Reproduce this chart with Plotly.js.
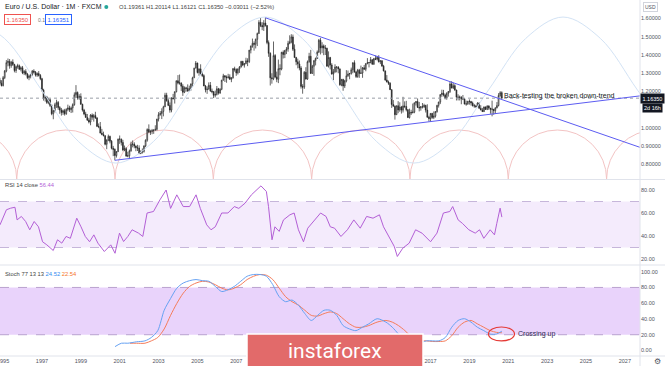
<!DOCTYPE html>
<html><head><meta charset="utf-8">
<script src="https://cdn.plot.ly/plotly-3.0.1.min.js"></script>
<style>html,body{margin:0;padding:0;background:#fff;}#chart{width:665px;height:366px;}</style>
</head><body><div id="chart"></div>
<script>
// EUR/USD monthly candles, Nov 1994 .. Sep 2020
const startYear = 1994, startMonth = 11;
const open = [
1.262,1.245,
1.232,1.276,1.312,1.358,1.365,1.342,1.361,1.348,1.315,1.336,1.341,1.322,
1.330,1.301,1.310,1.296,1.276,1.284,1.292,1.312,1.306,1.290,1.298,1.288,
1.270,1.208,1.162,1.170,1.140,1.155,1.124,1.078,1.095,1.128,1.140,1.112,
1.098,1.085,1.095,1.078,1.102,1.110,1.100,1.110,1.128,1.182,1.195,1.165,
1.172,1.130,1.098,1.077,1.058,1.043,1.033,1.071,1.059,1.068,1.055,1.009,
1.007,0.972,0.965,0.958,0.911,0.934,0.954,0.928,0.889,0.883,0.849,0.871,
0.939,0.939,0.921,0.880,0.887,0.846,0.848,0.875,0.911,0.912,0.901,0.892,
0.890,0.860,0.868,0.872,0.902,0.933,0.992,0.978,0.980,0.987,0.988,0.993,
1.049,1.073,1.079,1.091,1.116,1.180,1.150,1.124,1.098,1.165,1.160,1.199,
1.259,1.246,1.247,1.229,1.196,1.220,1.217,1.202,1.217,1.242,1.275,1.328,
1.356,1.304,1.324,1.296,1.287,1.230,1.210,1.213,1.234,1.203,1.199,1.179,
1.184,1.215,1.192,1.212,1.262,1.286,1.279,1.276,1.280,1.267,1.275,1.325,
1.320,1.302,1.324,1.335,1.365,1.345,1.353,1.368,1.364,1.427,1.449,1.464,
1.459,1.486,1.518,1.579,1.562,1.555,1.575,1.561,1.468,1.409,1.275,1.270,
1.397,1.280,1.267,1.325,1.323,1.415,1.403,1.425,1.433,1.464,1.472,1.499,
1.432,1.386,1.363,1.351,1.329,1.228,1.224,1.305,1.268,1.363,1.393,1.299,
1.338,1.369,1.381,1.416,1.481,1.439,1.450,1.439,1.437,1.339,1.386,1.345,
1.296,1.308,1.334,1.334,1.324,1.237,1.266,1.230,1.258,1.286,1.296,1.299,
1.319,1.358,1.307,1.282,1.317,1.299,1.301,1.330,1.322,1.352,1.358,1.359,
1.374,1.349,1.380,1.377,1.387,1.363,1.369,1.339,1.313,1.263,1.252,1.245,
1.210,1.129,1.119,1.073,1.122,1.099,1.115,1.098,1.121,1.118,1.100,1.057,
1.086,1.083,1.087,1.138,1.145,1.113,1.110,1.117,1.116,1.124,1.098,1.059,
1.052,1.080,1.058,1.065,1.090,1.124,1.142,1.183,1.191,1.181,1.164,1.190,
1.200,1.241,1.219,1.232,1.208,1.169,1.168,1.169,1.160,1.160,1.131,1.132,
1.147,1.145,1.137,1.122,1.121,1.117,1.137,1.108,1.099,1.090,1.115,1.102,
1.121,1.109,1.103,1.103,1.095,1.110,1.123,1.178,1.19361
];
const high = [
1.275,1.262,
1.285,1.318,1.372,1.381,1.378,1.368,1.376,1.352,1.342,1.352,1.348,1.338,
1.340,1.318,1.322,1.302,1.292,1.298,1.318,1.322,1.312,1.305,1.312,1.296,
1.275,1.215,1.180,1.176,1.165,1.162,1.130,1.100,1.138,1.155,1.148,1.120,
1.110,1.102,1.105,1.108,1.128,1.122,1.118,1.135,1.195,1.235,1.200,1.185,
1.190,1.133,1.105,1.089,1.077,1.054,1.076,1.080,1.077,1.089,1.060,1.025,
1.033,0.995,0.980,0.960,0.938,0.964,0.958,0.934,0.902,0.888,0.873,0.942,
0.959,0.942,0.935,0.904,0.895,0.870,0.882,0.925,0.932,0.922,0.905,0.908,
0.905,0.878,0.888,0.904,0.938,0.998,1.020,0.990,0.995,0.993,1.015,1.050,
1.087,1.093,1.108,1.122,1.193,1.193,1.160,1.140,1.168,1.187,1.200,1.260,
1.290,1.293,1.250,1.240,1.228,1.226,1.239,1.232,1.243,1.281,1.330,1.367,
1.358,1.326,1.349,1.310,1.294,1.236,1.228,1.250,1.252,1.216,1.203,1.205,
1.230,1.220,1.218,1.264,1.297,1.290,1.288,1.297,1.294,1.278,1.329,1.336,
1.327,1.326,1.339,1.368,1.368,1.355,1.385,1.382,1.427,1.452,1.490,1.475,
1.490,1.523,1.591,1.602,1.580,1.591,1.604,1.564,1.480,1.415,1.300,1.474,
1.405,1.309,1.375,1.349,1.417,1.425,1.428,1.444,1.478,1.508,1.514,1.512,
1.458,1.390,1.380,1.370,1.339,1.240,1.312,1.333,1.370,1.412,1.428,1.346,
1.373,1.386,1.425,1.488,1.494,1.470,1.458,1.455,1.440,1.420,1.390,1.355,
1.323,1.349,1.338,1.339,1.326,1.269,1.270,1.264,1.317,1.315,1.301,1.331,
1.359,1.371,1.313,1.324,1.324,1.342,1.334,1.345,1.356,1.383,1.361,1.389,
1.377,1.384,1.397,1.395,1.399,1.369,1.370,1.346,1.315,1.290,1.260,1.251,
1.212,1.153,1.124,1.123,1.147,1.141,1.121,1.171,1.146,1.149,1.104,1.106,
1.100,1.134,1.140,1.146,1.162,1.143,1.120,1.137,1.133,1.127,1.130,1.067,
1.082,1.083,1.091,1.093,1.127,1.144,1.186,1.210,1.209,1.188,1.196,1.203,
1.254,1.256,1.248,1.240,1.210,1.185,1.178,1.174,1.181,1.162,1.150,1.148,
1.157,1.149,1.145,1.132,1.127,1.141,1.141,1.125,1.110,1.118,1.118,1.124,
1.124,1.110,1.150,1.104,1.114,1.142,1.191,1.202,1.20114
];
const low = [
1.238,1.228,
1.228,1.268,1.305,1.338,1.325,1.330,1.340,1.305,1.302,1.325,1.318,1.310,
1.295,1.290,1.288,1.268,1.262,1.272,1.285,1.298,1.282,1.280,1.282,1.262,
1.200,1.150,1.145,1.132,1.130,1.115,1.070,1.048,1.085,1.110,1.100,1.078,
1.068,1.072,1.068,1.072,1.092,1.088,1.082,1.085,1.122,1.165,1.155,1.155,
1.128,1.090,1.070,1.058,1.040,1.025,1.015,1.045,1.035,1.050,1.005,0.999,
0.971,0.960,0.954,0.905,0.884,0.928,0.916,0.883,0.846,0.823,0.838,0.868,
0.913,0.904,0.873,0.873,0.843,0.840,0.835,0.870,0.894,0.889,0.873,0.874,
0.857,0.857,0.860,0.865,0.895,0.925,0.972,0.962,0.966,0.968,0.985,0.986,
1.036,1.067,1.049,1.064,1.115,1.144,1.120,1.084,1.086,1.158,1.134,1.195,
1.239,1.237,1.203,1.176,1.191,1.199,1.201,1.201,1.205,1.226,1.275,1.327,
1.299,1.286,1.290,1.279,1.230,1.195,1.187,1.211,1.198,1.190,1.164,1.168,
1.178,1.183,1.187,1.207,1.260,1.252,1.248,1.271,1.264,1.251,1.271,1.309,
1.286,1.293,1.302,1.331,1.339,1.331,1.350,1.339,1.356,1.409,1.440,1.424,
1.436,1.449,1.516,1.553,1.536,1.532,1.556,1.459,1.390,1.233,1.243,1.262,
1.274,1.251,1.246,1.289,1.316,1.381,1.383,1.405,1.418,1.459,1.464,1.422,
1.386,1.344,1.327,1.316,1.216,1.188,1.214,1.266,1.264,1.358,1.297,1.298,
1.286,1.343,1.378,1.411,1.403,1.410,1.399,1.400,1.336,1.331,1.321,1.292,
1.262,1.302,1.305,1.300,1.231,1.229,1.204,1.219,1.250,1.280,1.267,1.292,
1.300,1.303,1.274,1.275,1.275,1.298,1.275,1.319,1.311,1.350,1.332,1.354,
1.348,1.347,1.372,1.370,1.359,1.350,1.337,1.310,1.259,1.250,1.236,1.209,
1.110,1.118,1.046,1.072,1.081,1.089,1.079,1.085,1.109,1.091,1.056,1.052,
1.071,1.081,1.081,1.123,1.110,1.091,1.095,1.107,1.110,1.085,1.057,1.035,
1.034,1.050,1.049,1.057,1.084,1.112,1.131,1.171,1.173,1.157,1.155,1.172,
1.192,1.218,1.214,1.204,1.151,1.151,1.151,1.130,1.153,1.130,1.122,1.127,
1.128,1.123,1.118,1.111,1.111,1.116,1.106,1.097,1.088,1.088,1.099,1.098,
1.099,1.078,1.064,1.073,1.077,1.108,1.118,1.171,1.16121
];
const close = [
1.245,1.232,
1.276,1.312,1.358,1.365,1.342,1.361,1.348,1.315,1.336,1.341,1.322,1.330,
1.301,1.310,1.296,1.276,1.284,1.292,1.312,1.306,1.290,1.298,1.288,1.270,
1.208,1.162,1.170,1.140,1.155,1.124,1.078,1.095,1.128,1.140,1.112,1.098,
1.085,1.095,1.078,1.102,1.110,1.100,1.110,1.128,1.182,1.195,1.165,1.172,
1.130,1.098,1.077,1.058,1.043,1.033,1.071,1.059,1.068,1.055,1.009,1.007,
0.972,0.965,0.958,0.911,0.934,0.954,0.928,0.889,0.883,0.849,0.871,0.939,
0.939,0.921,0.880,0.887,0.846,0.848,0.875,0.911,0.912,0.901,0.892,0.890,
0.860,0.868,0.872,0.902,0.933,0.992,0.978,0.980,0.987,0.988,0.993,1.049,
1.073,1.079,1.091,1.116,1.180,1.150,1.124,1.098,1.165,1.160,1.199,1.259,
1.246,1.247,1.229,1.196,1.220,1.217,1.202,1.217,1.242,1.275,1.328,1.356,
1.304,1.324,1.296,1.287,1.230,1.210,1.213,1.234,1.203,1.199,1.179,1.184,
1.215,1.192,1.212,1.262,1.286,1.279,1.276,1.280,1.267,1.275,1.325,1.320,
1.302,1.324,1.335,1.365,1.345,1.353,1.368,1.364,1.427,1.449,1.464,1.459,
1.486,1.518,1.579,1.562,1.555,1.575,1.561,1.468,1.409,1.275,1.270,1.397,
1.280,1.267,1.325,1.323,1.415,1.403,1.425,1.433,1.464,1.472,1.499,1.432,
1.386,1.363,1.351,1.329,1.228,1.224,1.305,1.268,1.363,1.393,1.299,1.338,
1.369,1.381,1.416,1.481,1.439,1.450,1.439,1.437,1.339,1.386,1.345,1.296,
1.308,1.334,1.334,1.324,1.237,1.266,1.230,1.258,1.286,1.296,1.299,1.319,
1.358,1.307,1.282,1.317,1.299,1.301,1.330,1.322,1.352,1.358,1.359,1.374,
1.349,1.380,1.377,1.387,1.363,1.369,1.339,1.313,1.263,1.252,1.245,1.210,
1.129,1.119,1.073,1.122,1.099,1.115,1.098,1.121,1.118,1.100,1.057,1.086,
1.083,1.087,1.138,1.145,1.113,1.110,1.117,1.116,1.124,1.098,1.059,1.052,
1.080,1.058,1.065,1.090,1.124,1.142,1.183,1.191,1.181,1.164,1.190,1.200,
1.241,1.219,1.232,1.208,1.169,1.168,1.169,1.160,1.160,1.131,1.132,1.147,
1.145,1.137,1.122,1.121,1.117,1.137,1.108,1.099,1.090,1.115,1.102,1.121,
1.109,1.103,1.103,1.095,1.110,1.123,1.178,1.19361,1.16350
];

// RSI(14) (decimal year, value)
const rsiX = [1994.84,1995.17,1995.39,1995.61,1995.72,1995.94,1996.16,1996.37,1996.6,1996.82,1997.03,1997.25,1997.58,1997.8,1998.02,1998.24,1998.46,1998.79,1999.01,1999.23,1999.45,1999.67,1999.88,2000.21,2000.54,2000.76,2000.99,2001.2,2001.42,2001.64,2001.97,2002.19,2002.41,2002.74,2003.07,2003.39,2003.62,2003.94,2004.27,2004.6,2004.93,2005.15,2005.48,2005.7,2005.92,2006.25,2006.57,2006.9,2007.13,2007.45,2007.78,2008.11,2008.27,2008.55,2008.66,2008.84,2008.99,2009.21,2009.43,2009.76,2009.98,2010.2,2010.46,2010.68,2010.97,2011.34,2011.62,2011.84,2012.06,2012.39,2012.72,2013.05,2013.38,2013.71,2014.04,2014.37,2014.58,2014.91,2015.13,2015.29,2015.57,2015.9,2016.23,2016.56,2017.0,2017.33,2017.66,2017.99,2018.14,2018.42,2018.64,2018.97,2019.3,2019.52,2019.74,2020.07,2020.29,2020.41,2020.58,2020.67];
const rsiY = [49.7,62.8,64.2,65,54,57,52.6,45.4,52.6,48,35,32.3,27.4,36.7,33.8,39.6,38,55.5,48,39.6,35,41,33.8,26.5,32.3,25,42.5,35.2,39.6,45.4,42.5,39.6,60,61.3,71.4,80,64,75.8,65.6,65.6,75.8,64,49.7,45.4,48,60,60,65.6,64,68.5,75.8,81.5,83.6,78.7,65.6,36.7,48,44,54,58.4,60,45.4,35,46.8,52.6,60,57,48,46.8,39.6,45.4,54,46.8,57,55.5,58.4,48,38,31,22.2,29.4,33.8,45.4,42.5,35,42.5,60,61.3,65.6,54,51,45.4,42.5,45.4,38,45.4,41,51,64.2,56.44];

// Stoch(77,13,13) %K and %D
const kX = [2000.76,2001.09,2001.42,2001.86,2002.3,2002.63,2002.96,2003.29,2003.62,2003.94,2004.27,2004.6,2004.93,2005.26,2005.59,2005.92,2006.25,2006.57,2006.9,2007.23,2007.56,2007.89,2008.22,2008.55,2008.88,2009.21,2009.54,2009.87,2010.2,2010.53,2010.86,2011.19,2011.52,2011.84,2012.17,2012.5,2012.83,2013.16,2013.49,2013.82,2014.25,2014.7,2015.03,2015.35,2015.7,2016.1,2016.4,2016.78,2017.11,2017.43,2017.76,2018.09,2018.42,2018.75,2019.08,2019.41,2019.74,2020.07,2020.4,2020.67];
const kY = [4.9,9.2,9.2,11,12.2,16.5,25.2,51,66,79,85.6,88.6,90,88.6,87.8,81.3,74.8,77,81.3,87.8,94.2,96.4,96.4,94.2,83.5,68.3,61.9,64,57.5,46.8,38.1,44.6,51,51,44.6,31.6,27.3,25.2,29.5,33.8,40.3,36,29.5,20.9,12,8,9,12.2,12.2,12.2,16.5,29.5,38.1,40.3,36,29.5,25.2,20.9,20.9,24.52];
const dX = [2001.53,2001.86,2002.3,2002.63,2002.96,2003.29,2003.62,2003.94,2004.27,2004.6,2004.93,2005.26,2005.59,2005.92,2006.25,2006.57,2006.9,2007.23,2007.56,2007.89,2008.22,2008.55,2008.88,2009.21,2009.54,2009.87,2010.2,2010.53,2010.86,2011.19,2011.52,2011.84,2012.17,2012.5,2012.83,2013.16,2013.49,2013.82,2014.25,2014.7,2015.03,2015.35,2015.68,2015.9,2016.2,2016.5,2016.78,2017.11,2017.43,2017.76,2018.09,2018.42,2018.75,2019.08,2019.41,2019.74,2020.07,2020.4,2020.67];
const dY = [9.2,9.2,9.2,12.2,16.5,27.3,44.6,59.7,72.7,81.3,85.6,87.8,86.9,83.5,79.1,77,79.1,83.5,90,94.2,96.4,95.5,90,79.1,68.3,61.9,57.5,51,44.6,43.7,46.8,48.9,46.8,40.3,33.8,29.5,29.5,31.6,36,38.1,36,31.6,25.2,20,15,12.5,12.2,11.4,11.4,12.2,18.7,29.5,36,38.1,33.8,29.5,25.2,23,22.54];

// Drawing anchors (analyst's drawings)
const sineX = [1993.14,1995.07,1996.98,1998.89,2000.81,2002.73,2004.64,2006.56,2008.48,2010.40,2012.31,2014.23,2016.15,2018.07,2019.98,2021.90,2023.82,2025.74,2027.65,2029.57];
const sineY = [1.608,1.491,1.208,0.925,0.808,0.925,1.208,1.491,1.608,1.491,1.208,0.925,0.808,0.925,1.208,1.491,1.608,1.491,1.208,0.925];
const cycleBases = [1990.64,1995.70,2000.76,2005.82,2010.88,2015.94,2021.00,2026.06,2031.12];
const downTrend = {x0:2008.5, y0:1.604, x1:2027.78, y1:0.894};
const upTrend = {x0:2000.75, y0:0.823, x1:2027.78, y1:1.176};
const lastPrice = 1.1635;
const yearTicks = [1995,1997,1999,2001,2003,2005,2007,2009,2011,2013,2015,2017,2019,2021,2023,2025,2027];
const hiddenYears = [2009,2011,2013,2015];      // covered by the logo box
const priceTicks = [0.8,0.9,1.0,1.1,1.2,1.3,1.4,1.5,1.6];
const hiddenPrice = [1.1];                        // covered by the last-price label
const rsiTicks = [20,40,60,80];
const stochTicks = [0,20,40,60,80,100];

const xs = open.map((_, i) => startYear + (startMonth - 1 + i) / 12);

const FONT = 'Liberation Sans, Arial, sans-serif';
const AX = '#50535e';
const W = 640, H = 356;
const px = v => v / W;
const py = v => 1 - v / H;

const traces = [
  {type:'scatter', mode:'lines', x:sineX, y:sineY, xaxis:'x', yaxis:'y',
   line:{color:'#d3e3f5', width:1, shape:'spline', smoothing:1}, hoverinfo:'skip'},
  {type:'candlestick', x:xs, open:open, high:high, low:low, close:close, xaxis:'x', yaxis:'y',
   increasing:{line:{color:'#222', width:0.7}, fillcolor:'#ffffff'},
   decreasing:{line:{color:'#222', width:0.7}, fillcolor:'#222'},
   whiskerwidth:0, hoverinfo:'skip'},
  {type:'scatter', mode:'lines', x:rsiX, y:rsiY, xaxis:'x', yaxis:'y2',
   line:{color:'#b35fd6', width:1}, hoverinfo:'skip'},
  {type:'scatter', mode:'lines', x:dX, y:dY, xaxis:'x', yaxis:'y3',
   line:{color:'#f57c5a', width:1, shape:'spline', smoothing:0.8}, hoverinfo:'skip'},
  {type:'scatter', mode:'lines', x:kX, y:kY, xaxis:'x', yaxis:'y3',
   line:{color:'#66a2f3', width:1, shape:'spline', smoothing:0.8}, hoverinfo:'skip'}
];

const shapes = [];
shapes.push({type:'rect', xref:'paper', yref:'y2', x0:0, x1:1, y0:30, y1:70, fillcolor:'#f4ebfc', line:{width:0}, layer:'below'});
[30,70].forEach(v => shapes.push({type:'line', xref:'paper', yref:'y2', x0:0, x1:1, y0:v, y1:v, line:{color:'#c6b6da', width:1, dash:'dash'}, layer:'below'}));
shapes.push({type:'rect', xref:'paper', yref:'y3', x0:0, x1:1, y0:20, y1:80, fillcolor:'#e9d3fb', line:{width:0}, layer:'below'});
[20,80].forEach(v => shapes.push({type:'line', xref:'paper', yref:'y3', x0:0, x1:1, y0:v, y1:v, line:{color:'#b9a2cf', width:1, dash:'dash'}, layer:'below'}));
const paneBottom = 0.7206, cycR = 0.2685;
for (let i = 0; i < cycleBases.length - 1; i++) {
  shapes.push({type:'circle', xref:'x', yref:'y', x0:cycleBases[i], x1:cycleBases[i+1],
    y0:paneBottom - cycR, y1:paneBottom + cycR, line:{color:'#f3c4c4', width:1}, layer:'below'});
}
shapes.push({type:'line', xref:'paper', yref:'y', x0:0, x1:1, y0:lastPrice, y1:lastPrice, line:{color:'#9a9ea8', width:1, dash:'dot'}});
[downTrend, upTrend].forEach(t => shapes.push({type:'line', xref:'x', yref:'y', x0:t.x0, y0:t.y0, x1:t.x1, y1:t.y1, line:{color:'#5c5cf2', width:1}}));
[179.5, 265].forEach(v => shapes.push({type:'line', xref:'paper', yref:'paper', x0:0, x1:665/640, y0:py(v), y1:py(v), line:{color:'#e0e3eb', width:1}}));
shapes.push({type:'line', xref:'paper', yref:'paper', x0:0, x1:665/640, y0:0, y1:0, line:{color:'#e0e3eb', width:1}});
shapes.push({type:'line', xref:'paper', yref:'paper', x0:1, x1:1, y0:-10/H, y1:1, line:{color:'#e0e3eb', width:1}});
shapes.push({type:'circle', xref:'x', yref:'y3', x0:2019.98, x1:2021.32, y0:12.1, y1:29.8, line:{color:'#e53935', width:1.2}});
shapes.push({type:'circle', xref:'paper', yref:'paper', x0:px(104.3), x1:px(108.3), y0:py(9), y1:py(5), fillcolor:'#26a69a', line:{width:0}});
shapes.push({type:'rect', xref:'paper', yref:'paper', x0:px(247), x1:px(423), y0:py(372), y1:py(334), fillcolor:'#e26a6a', line:{color:'#ffffff', width:1.5}, layer:'above'});

const annotations = [
  {xref:'paper', yref:'paper', x:px(3), y:py(7), xanchor:'left', yanchor:'middle', showarrow:false,
   text:'Euro / U.S. Dollar · 1M · FXCM', font:{family:FONT, size:7, color:'#131722'}},
  {xref:'paper', yref:'paper', x:px(117), y:py(7), xanchor:'left', yanchor:'middle', showarrow:false,
   text:'O1.19361 H1.20114 L1.16121 C1.16350 −0.03011 (−2.52%)', font:{family:FONT, size:5.8, color:'#444'}},
  {xref:'paper', yref:'paper', x:px(3.5), y:py(19.5), xanchor:'left', yanchor:'middle', showarrow:false,
   text:'1.16350', font:{family:FONT, size:6, color:'#ef5350'}, bgcolor:'#fff', bordercolor:'#ef5350', borderwidth:1, borderpad:1.5},
  {xref:'paper', yref:'paper', x:px(36), y:py(19.5), xanchor:'left', yanchor:'middle', showarrow:false,
   text:'0.1', font:{family:FONT, size:5, color:'#777'}},
  {xref:'paper', yref:'paper', x:px(45), y:py(19.5), xanchor:'left', yanchor:'middle', showarrow:false,
   text:'1.16351', font:{family:FONT, size:6, color:'#2962ff'}, bgcolor:'#fff', bordercolor:'#2962ff', borderwidth:1, borderpad:1.5},
  {xref:'x', yref:'y', x:2020.67, y:1.1735, xanchor:'left', yanchor:'middle', showarrow:false,
   text:'Back-testing the broken down-trend', font:{family:FONT, size:7, color:'#131722'}},
  {xref:'paper', yref:'y', x:1, y:lastPrice, xanchor:'left', yanchor:'middle', showarrow:false,
   text:'1.16350', font:{family:FONT, size:5.5, color:'#fff'}, bgcolor:'#131722', borderpad:1.5},
  {xref:'paper', yref:'y', x:1, y:lastPrice, xanchor:'left', yanchor:'middle', xshift:2, yshift:-10, showarrow:false,
   text:'2d 16h', font:{family:FONT, size:5.5, color:'#fff'}, bgcolor:'#131722', borderpad:1},
  {xref:'paper', yref:'paper', x:1, y:py(7), xanchor:'left', yanchor:'middle', xshift:3, showarrow:false,
   text:'USD', font:{family:FONT, size:5, color:'#50535e'}, bordercolor:'#d1d4dc', borderwidth:1, borderpad:1},
  {xref:'paper', yref:'paper', x:px(3), y:py(184.5), xanchor:'left', yanchor:'middle', showarrow:false,
   text:'RSI 14 close <span style="color:#b35fd6">56.44</span>', font:{family:FONT, size:5.8, color:'#444'}},
  {xref:'paper', yref:'paper', x:px(3), y:py(274), xanchor:'left', yanchor:'middle', showarrow:false,
   text:'Stoch 77 13 13 <span style="color:#2f8cf0">24.52</span> <span style="color:#f5762c">22.54</span>', font:{family:FONT, size:5.8, color:'#444'}},
  {xref:'x', yref:'y3', x:2021.39, y:21, xanchor:'left', yanchor:'middle', showarrow:false,
   text:'Crossing up', font:{family:FONT, size:7, color:'#2a2450'}},
  {xref:'paper', yref:'paper', x:px(335), y:py(351), xanchor:'center', yanchor:'middle', showarrow:false,
   text:'instaforex', font:{family:'Roboto, Open Sans, sans-serif', size:21, color:'#ffffff'}},
  {xref:'paper', yref:'paper', x:1, y:py(361), xanchor:'left', yanchor:'middle', xshift:12, showarrow:false,
   text:'⚙', font:{family:'DejaVu Sans', size:8, color:'#50535e'}}
];

const tickFont = {family:FONT, size:5.5, color:AX};
const layout = {
  width:665, height:366, margin:{l:0, r:25, t:0, b:10},
  paper_bgcolor:'#ffffff', plot_bgcolor:'#ffffff', showlegend:false,
  xaxis:{range:[1994.84, 2027.78], anchor:'y3', tickvals:yearTicks,
    ticktext:yearTicks.map(v => hiddenYears.includes(v) ? '' : String(v)),
    ticklabeloverflow:'allow',
    showgrid:false, zeroline:false, showline:false, ticks:'', tickfont:tickFont, rangeslider:{visible:false}, fixedrange:true},
  yaxis:{domain:[1-179/H, 1], range:[0.7206, 1.7014], side:'right', anchor:'x',
    tickvals:priceTicks, ticktext:priceTicks.map(v => hiddenPrice.includes(v) ? '' : v.toFixed(5)),
    showgrid:false, zeroline:false, showline:false, ticks:'', tickfont:tickFont},
  yaxis2:{domain:[1-264/H, 1-180/H], range:[15.65, 88.7], side:'right', anchor:'x',
    tickvals:rsiTicks, ticktext:rsiTicks.map(v => v.toFixed(2)),
    showgrid:false, zeroline:false, showline:false, ticks:'', tickfont:tickFont},
  yaxis3:{domain:[0, 1-266/H], range:[-7, 107.2], side:'right', anchor:'x',
    tickvals:stochTicks, ticktext:stochTicks.map(v => v.toFixed(2)),
    showgrid:false, zeroline:false, showline:false, ticks:'', tickfont:tickFont},
  shapes:shapes, annotations:annotations
};

Plotly.newPlot('chart', traces, layout, {staticPlot:true, displayModeBar:false});
</script></body></html>
